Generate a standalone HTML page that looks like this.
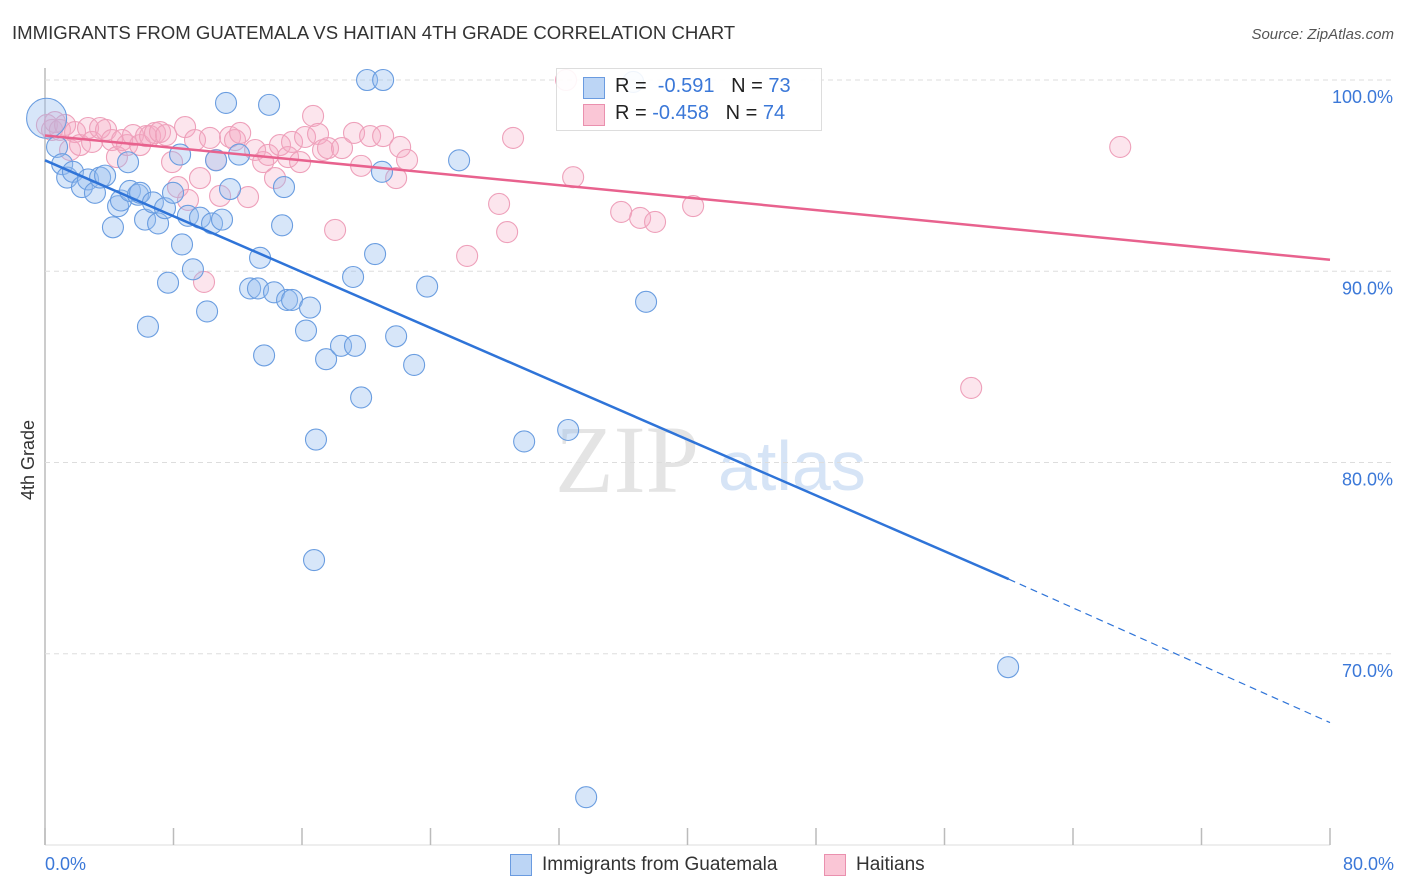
<!DOCTYPE html>
<html><head><meta charset="utf-8"><style>
body{margin:0;background:#fff;font-family:"Liberation Sans",sans-serif;}
#wrap{position:relative;width:1406px;height:892px;overflow:hidden}
</style></head><body>
<div id="wrap">
<svg id="svg" width="1406" height="892" xmlns="http://www.w3.org/2000/svg">
<text x="12" y="39" font-size="18.6" fill="#333">IMMIGRANTS FROM GUATEMALA VS HAITIAN 4TH GRADE CORRELATION CHART</text>
<text x="1394" y="39" font-size="15" fill="#555" font-style="italic" text-anchor="end">Source: ZipAtlas.com</text>
<text x="34" y="460" font-size="18" fill="#333" transform="rotate(-90 34 460)" text-anchor="middle">4th Grade</text>
<text x="555" y="492" font-size="96" fill="#e4e4e4" font-family="Liberation Serif,serif">ZIP</text>
<text x="718" y="490" font-size="70" fill="#d6e4f6">atlas</text>
<g id="grid"></g><g id="pts"></g><g id="lines"></g>
</svg>
<div style="position:absolute;left:556px;top:68px;width:264px;height:61px;border:1px solid #ddd;background:rgba(255,255,255,0.9);font-size:20px;color:#222">
 <div style="position:absolute;left:26px;top:8px;width:20px;height:20px;background:#bcd5f5;border:1px solid #6a9be0"></div>
 <div style="position:absolute;left:58px;top:6px">R = &nbsp;<span style="color:#3b78d8">-0.591</span>&nbsp;&nbsp;&nbsp;N = <span style="color:#3b78d8">73</span></div>
 <div style="position:absolute;left:26px;top:35px;width:20px;height:20px;background:#fac6d6;border:1px solid #ea90ae"></div>
 <div style="position:absolute;left:58px;top:33px">R = <span style="color:#3b78d8">-0.458</span>&nbsp;&nbsp;&nbsp;N = <span style="color:#3b78d8">74</span></div>
</div>
<div style="position:absolute;top:853px;left:510px;font-size:19px;color:#333">
 <span style="position:absolute;left:0;top:1px;width:20px;height:20px;background:#bcd5f5;border:1px solid #6a9be0"></span>
 <span style="position:absolute;left:32px;top:1px;white-space:nowrap">Immigrants from Guatemala</span>
 <span style="position:absolute;left:314px;top:1px;width:20px;height:20px;background:#fac6d6;border:1px solid #ea90ae"></span>
 <span style="position:absolute;left:346px;top:1px">Haitians</span>
</div>
</div>
<script>
const blueX=[0.1,0.75,1.07,1.38,1.74,2.3,2.68,3.11,3.43,3.74,4.23,4.55,4.73,5.17,5.29,5.79,5.92,6.23,6.41,6.72,7.04,7.47,7.66,7.97,8.41,8.53,8.9,9.21,9.65,10.09,10.4,10.65,11.02,11.27,11.52,12.08,12.77,13.26,13.39,13.64,13.95,14.26,14.76,14.88,15.07,15.38,16.25,16.5,16.87,16.75,17.5,18.43,19.18,19.3,19.68,20.05,20.55,20.98,21.05,21.86,22.98,23.79,25.78,29.83,32.57,33.69,36.62,37.42,59.96];
const blueY=[98.0,96.5,95.6,94.9,95.2,94.4,94.8,94.1,94.9,95.0,92.3,93.4,93.7,95.7,94.2,94.0,94.1,92.7,87.1,93.6,92.5,93.3,89.4,94.1,96.1,91.4,92.9,90.1,92.8,87.9,92.5,95.8,92.7,98.8,94.3,96.1,89.1,89.1,90.7,85.6,98.7,88.9,92.4,94.4,88.5,88.5,86.9,88.1,81.2,74.9,85.4,86.1,89.7,86.1,83.4,100.0,90.9,95.2,100.0,86.6,85.1,89.2,95.8,81.1,81.7,62.5,99.9,88.4,69.3];
const pinkX=[0.12,0.44,0.62,0.93,1.25,1.56,1.87,2.18,2.68,2.93,3.43,3.8,4.17,4.48,4.8,5.11,5.48,5.92,6.29,6.54,6.85,7.16,7.54,7.91,8.28,8.72,8.9,9.34,9.65,9.9,10.27,10.65,10.9,11.52,11.83,12.15,12.64,13.08,13.58,13.89,14.32,14.63,15.13,15.38,15.88,16.19,16.69,17.0,17.31,17.62,18.06,18.49,19.24,19.68,20.24,21.05,21.86,22.11,22.54,26.28,28.27,28.77,29.14,32.44,32.88,35.87,37.05,37.98,40.35,57.66,66.94];
const pinkY=[97.65,97.39,97.8,97.39,97.65,96.34,97.28,96.6,97.49,96.76,97.49,97.39,96.86,95.97,96.86,96.6,97.12,96.6,97.07,97.07,97.23,97.28,97.12,95.71,94.4,97.54,93.73,96.86,94.87,89.44,96.97,95.82,93.94,97.02,96.86,97.23,93.88,96.34,95.71,96.08,94.87,96.6,95.97,96.76,95.71,97.02,98.12,97.18,96.34,96.44,92.16,96.44,97.23,95.51,97.07,97.07,94.87,96.5,95.82,90.8,93.52,92.05,96.97,100.0,94.92,93.1,92.79,92.58,93.41,83.9,96.5];
const blueLine=[0,95.8,60,73.9,80,66.4];
const pinkLine=[0,97.1,80,90.6];
const yTicks=[100,90,80,70];
const xTickVals=[0,8,16,24,32,40,48,56,64,72,80];
const NS='http://www.w3.org/2000/svg';
const sx=v=>45+v*(1285/80), sy=v=>80+(100-v)*19.125;
function mk(tag,attrs,parent){const e=document.createElementNS(NS,tag);for(const k in attrs)e.setAttribute(k,attrs[k]);parent.appendChild(e);return e;}
const grid=document.getElementById('grid'),pts=document.getElementById('pts'),lines=document.getElementById('lines'),svg=document.getElementById('svg');
mk('line',{x1:45,y1:68,x2:45,y2:845,stroke:'#bbb','stroke-width':1.5},grid);
mk('line',{x1:45,y1:845,x2:1330,y2:845,stroke:'#ddd','stroke-width':1},grid);
yTicks.forEach(v=>{
 const l=mk('line',{x1:45,y1:sy(v),x2:1394,y2:sy(v),stroke:'#ddd','stroke-dasharray':'5,4'},grid);
 
 
 const t=mk('text',{x:1393,y:sy(v)+23,'font-size':18,fill:'#3b78d8','text-anchor':'end'},svg);
 t.textContent=v.toFixed(1)+'%';
 
 
});
xTickVals.forEach(v=>{
 const l=mk('line',{x1:sx(v),y1:828,x2:sx(v),y2:845,stroke:'#bbb','stroke-width':1.5},grid);
 
 
});
[[0,'start',45],[80,'end',1394]].forEach(([v,a,x])=>{
 const t=mk('text',{x:x,y:870,'font-size':18,fill:'#3b78d8','text-anchor':a},svg);
 t.textContent=v.toFixed(1)+'%';
 
 
});
pinkX.forEach((x,i)=>{
 const c=mk('circle',{cx:sx(x),cy:sy(pinkY[i]),r:10.5,fill:'rgba(246,170,196,0.3)',stroke:'#eea0ba','stroke-width':1.1},pts);
 
 
});
blueX.forEach((x,i)=>{
 const c=mk('circle',{cx:sx(x),cy:sy(blueY[i]),r:i===0?20:10.5,fill:'rgba(150,190,240,0.38)',stroke:'#6a9de0','stroke-width':1.1},pts);
 
 
});
const bl=mk('line',{x1:sx(blueLine[0]),y1:sy(blueLine[1]),x2:sx(blueLine[2]),y2:sy(blueLine[3]),stroke:'#2f74d8','stroke-width':2.5},lines);


const bd=mk('line',{x1:sx(blueLine[2]),y1:sy(blueLine[3]),x2:sx(blueLine[4]),y2:sy(blueLine[5]),stroke:'#2f74d8','stroke-width':1.2,'stroke-dasharray':'7,5'},lines);


const pl=mk('line',{x1:sx(pinkLine[0]),y1:sy(pinkLine[1]),x2:sx(pinkLine[2]),y2:sy(pinkLine[3]),stroke:'#e8628e','stroke-width':2.5},lines);


</script>
</body></html>
